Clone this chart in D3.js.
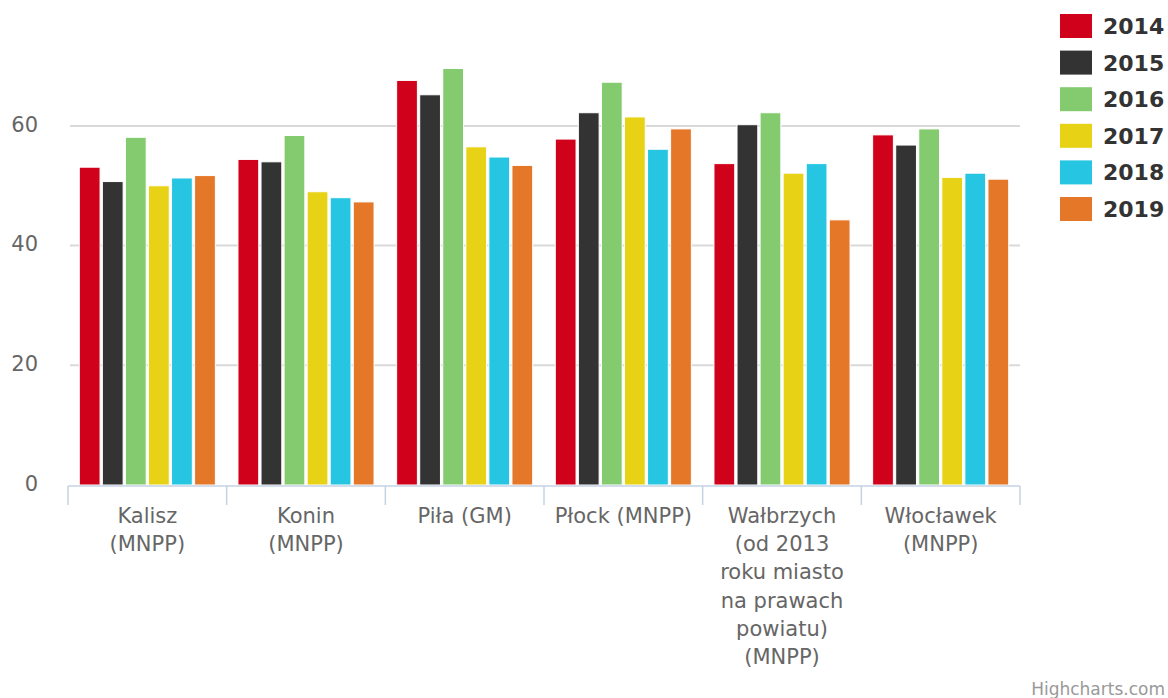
<!DOCTYPE html>
<html>
<head>
<meta charset="utf-8">
<script src="https://cdn.jsdelivr.net/npm/d3@7"></script>
<style>
  html, body { margin: 0; padding: 0; background: #fff; }
  svg { display: block; font-family: "DejaVu Sans", Verdana, sans-serif; }
</style>
</head>
<body>
<svg id="chart" width="1168" height="698"></svg>
<script>
// Categories (cities), each split into lines for the axis labels
const categories = ["Kalisz (MNPP)", "Konin (MNPP)", "Piła (GM)", "Płock (MNPP)",
  "Wałbrzych (od 2013 roku miasto na prawach powiatu) (MNPP)", "Włocławek (MNPP)"];
const categoryLines = [
  ["Kalisz", "(MNPP)"],
  ["Konin", "(MNPP)"],
  ["Piła (GM)"],
  ["Płock (MNPP)"],
  ["Wałbrzych", "(od 2013", "roku miasto", "na prawach", "powiatu)", "(MNPP)"],
  ["Włocławek", "(MNPP)"]
];
const years = ["2014", "2015", "2016", "2017", "2018", "2019"];
const colors = ["#d0021b", "#333333", "#84cb6f", "#e8d215", "#26c5e1", "#e57729"];

// One array per year, in category order
const v2014 = [53.1, 54.4, 67.6, 57.8, 53.7, 58.5];
const v2015 = [50.7, 54.0, 65.2, 62.2, 60.2, 56.8];
const v2016 = [58.1, 58.4, 69.6, 67.3, 62.2, 59.5];
const v2017 = [50.0, 49.0, 56.5, 61.5, 52.1, 51.4];
const v2018 = [51.3, 48.0, 54.8, 56.1, 53.7, 52.1];
const v2019 = [51.7, 47.3, 53.4, 59.5, 44.3, 51.1];
const seriesValues = [v2014, v2015, v2016, v2017, v2018, v2019];

const yTicks = [0, 20, 40, 60];

const svg = d3.select("#chart");
const plotLeft = 68, plotRight = 1020, plotBottom = 485, plotTop = 6.2;

const x0 = d3.scaleBand().domain(categories).range([plotLeft, plotRight]).padding(0);
const groupPad = 11.3;
const x1 = d3.scaleBand().domain(years)
  .range([groupPad, x0.bandwidth() - groupPad]).paddingInner(0.1).paddingOuter(0);
const y = d3.scaleLinear().domain([0, 80]).range([plotBottom, plotTop]);

// Horizontal grid lines
svg.append("g")
  .selectAll("line")
  .data(yTicks.filter(d => d > 0))
  .join("line")
  .attr("x1", plotLeft + 2).attr("x2", plotRight)
  .attr("y1", d => y(d)).attr("y2", d => y(d))
  .attr("stroke", "#d9d9d9").attr("stroke-width", 2);

// Y axis labels
const yAxis = d3.axisLeft(y).tickValues(yTicks).tickSize(0).tickPadding(0);
const yg = svg.append("g").attr("transform", "translate(38,0)").call(yAxis);
yg.select(".domain").remove();
yg.selectAll("text")
  .attr("fill", "#666").attr("font-size", 21)
  .attr("font-family", "DejaVu Sans, Verdana, sans-serif")
  .attr("dy", "0.25em");

// Bars
const groups = svg.append("g")
  .selectAll("g")
  .data(categories)
  .join("g")
  .attr("transform", d => `translate(${x0(d)},0)`);

groups.selectAll("rect")
  .data((c, ci) => years.map((yr, si) => ({ yr, si, v: seriesValues[si][ci] })))
  .join("rect")
  .attr("x", d => x1(d.yr))
  .attr("width", x1.bandwidth())
  .attr("y", d => y(d.v))
  .attr("height", d => y(0) - y(d.v))
  .attr("fill", d => colors[d.si])
  .attr("stroke", "#fff").attr("stroke-width", 1);

// X axis line and category ticks
const xAxisG = svg.append("g");
xAxisG.append("line")
  .attr("x1", plotLeft).attr("x2", plotRight)
  .attr("y1", plotBottom + 1).attr("y2", plotBottom + 1)
  .attr("stroke", "#c4d3e3").attr("stroke-width", 1.5);
const boundaries = categories.map(c => x0(c)).concat([plotRight]);
xAxisG.selectAll("line.tick")
  .data(boundaries)
  .join("line")
  .attr("class", "tick")
  .attr("x1", d => d).attr("x2", d => d)
  .attr("y1", plotBottom + 1).attr("y2", plotBottom + 20)
  .attr("stroke", "#c4d3e3").attr("stroke-width", 1.5);

// Category labels
const labelG = svg.append("g");
categories.forEach((c, i) => {
  const cx = x0(c) + x0.bandwidth() / 2;
  const t = labelG.append("text")
    .attr("x", cx)
    .attr("y", 523)
    .attr("text-anchor", "middle")
    .attr("fill", "#666")
    .attr("font-size", 21);
  categoryLines[i].forEach((line, li) => {
    t.append("tspan")
      .attr("x", cx)
      .attr("y", 523 + li * 28.2)
      .text(line);
  });
});

// Legend
const legend = svg.append("g");
years.forEach((yr, i) => {
  const cy = 26 + i * 36.6;
  legend.append("rect")
    .attr("x", 1060).attr("y", cy - 12)
    .attr("width", 32).attr("height", 24)
    .attr("fill", colors[i]);
  legend.append("text")
    .attr("x", 1103).attr("y", cy)
    .attr("dy", "0.36em")
    .attr("fill", "#333")
    .attr("font-size", 22)
    .attr("font-weight", "bold")
    .text(yr);
});

// Credits
svg.append("text")
  .attr("x", 1165).attr("y", 695)
  .attr("text-anchor", "end")
  .attr("fill", "#999")
  .attr("font-size", 17)
  .text("Highcharts.com");
</script>
</body>
</html>
